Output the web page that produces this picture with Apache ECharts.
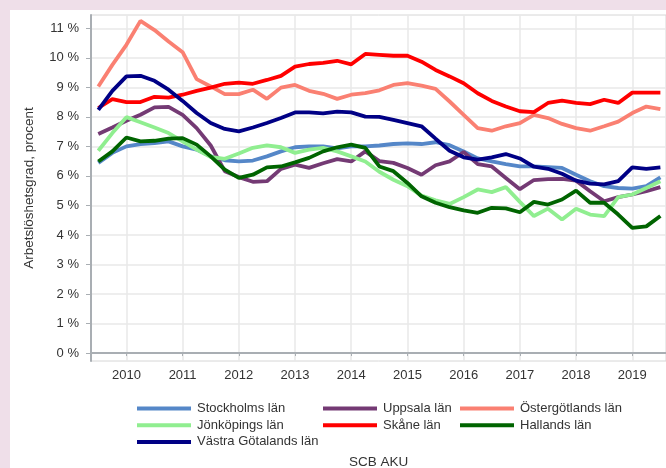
<!DOCTYPE html>
<html>
<head>
    <meta charset="UTF-8">
    <title>Arbetslöshetsgrad per län</title>
    <script src="https://cdn.jsdelivr.net/npm/echarts@6/dist/echarts.min.js"></script>
    <style>
        html, body { margin: 0; padding: 0; }
        #chart { width: 666px; height: 468px; }
    </style>
</head>
<body>
    <div id="chart"></div>

    <script>
        // kvartal (glidande), 2009K3 - 2019K3
        var quarters = [
            '2009K3', '2009K4',
            '2010K1', '2010K2', '2010K3', '2010K4',
            '2011K1', '2011K2', '2011K3', '2011K4',
            '2012K1', '2012K2', '2012K3', '2012K4',
            '2013K1', '2013K2', '2013K3', '2013K4',
            '2014K1', '2014K2', '2014K3', '2014K4',
            '2015K1', '2015K2', '2015K3', '2015K4',
            '2016K1', '2016K2', '2016K3', '2016K4',
            '2017K1', '2017K2', '2017K3', '2017K4',
            '2018K1', '2018K2', '2018K3', '2018K4',
            '2019K1', '2019K2', '2019K3'
        ];

        var yearTicks = [2010, 2011, 2012, 2013, 2014, 2015, 2016, 2017, 2018, 2019];
        var percentTicks = [0, 1, 2, 3, 4, 5, 6, 7, 8, 9, 10, 11];

        var stockholm = [6.44, 6.78, 7.00, 7.08, 7.11, 7.17, 7.00, 6.89, 6.66, 6.53, 6.49,
            6.52, 6.66, 6.83, 6.97, 7.00, 7.00, 6.93, 7.00, 7.00, 7.03,
            7.08, 7.10, 7.08, 7.14, 7.04, 6.83, 6.59, 6.49, 6.40, 6.32,
            6.32, 6.30, 6.27, 6.04, 5.82, 5.65, 5.59, 5.57, 5.65, 5.95];
        var uppsala = [7.42, 7.64, 7.87, 8.07, 8.32, 8.34, 8.07, 7.62, 7.03, 6.16, 5.96,
            5.80, 5.82, 6.24, 6.38, 6.27, 6.43, 6.57, 6.49, 6.83, 6.50,
            6.44, 6.27, 6.04, 6.36, 6.49, 6.81, 6.40, 6.32, 5.93, 5.55,
            5.86, 5.89, 5.90, 5.84, 5.48, 5.14, 5.28, 5.37, 5.48, 5.62];
        var ostergotland = [9.03, 9.76, 10.44, 11.25, 10.94, 10.55, 10.19, 9.28, 9.03, 8.77, 8.77,
            8.92, 8.61, 8.99, 9.08, 8.88, 8.78, 8.61, 8.75, 8.80, 8.90,
            9.08, 9.14, 9.06, 8.95, 8.52, 8.07, 7.62, 7.53, 7.68, 7.79,
            8.07, 7.96, 7.76, 7.62, 7.53, 7.68, 7.84, 8.13, 8.35, 8.26];
        var jonkoping = [6.85, 7.45, 7.99, 7.82, 7.64, 7.45, 7.17, 6.89, 6.64, 6.58, 6.76,
            6.95, 7.03, 6.97, 6.78, 6.89, 6.95, 6.83, 6.66, 6.49, 6.14,
            5.87, 5.65, 5.33, 5.17, 5.05, 5.28, 5.54, 5.45, 5.62, 5.12,
            4.64, 4.89, 4.52, 4.89, 4.69, 4.64, 5.28, 5.37, 5.59, 5.82];
        var skane = [8.30, 8.60, 8.50, 8.50, 8.68, 8.65, 8.75, 8.88, 8.99, 9.12, 9.16,
            9.12, 9.25, 9.39, 9.70, 9.79, 9.83, 9.90, 9.78, 10.13, 10.10,
            10.07, 10.07, 9.87, 9.59, 9.37, 9.14, 8.80, 8.54, 8.35, 8.19,
            8.16, 8.47, 8.55, 8.47, 8.43, 8.58, 8.47, 8.82, 8.82, 8.82];
        var halland = [6.49, 6.83, 7.30, 7.17, 7.19, 7.26, 7.28, 7.06, 6.66, 6.21, 5.93,
            6.04, 6.29, 6.32, 6.46, 6.61, 6.83, 6.97, 7.06, 6.95, 6.32,
            6.16, 5.76, 5.31, 5.09, 4.94, 4.83, 4.75, 4.92, 4.90, 4.77,
            5.12, 5.03, 5.20, 5.50, 5.09, 5.09, 4.69, 4.24, 4.29, 4.64];
        var vastraGotaland = [8.24, 8.88, 9.37, 9.39, 9.22, 8.92, 8.54, 8.13, 7.79, 7.59, 7.51,
            7.64, 7.79, 7.96, 8.15, 8.15, 8.12, 8.18, 8.15, 8.01, 8.00,
            7.90, 7.79, 7.68, 7.26, 6.85, 6.63, 6.55, 6.63, 6.74, 6.59,
            6.31, 6.24, 6.07, 5.84, 5.74, 5.71, 5.82, 6.29, 6.24, 6.29];

        var regions = [
            { name: 'Stockholms län', values: stockholm, color: '#5587c8' },
            { name: 'Uppsala län', values: uppsala, color: '#743a74' },
            { name: 'Östergötlands län', values: ostergotland, color: '#fa8072' },
            { name: 'Jönköpings län', values: jonkoping, color: '#90ee90' },
            { name: 'Skåne län', values: skane, color: '#ff0000' },
            { name: 'Hallands län', values: halland, color: '#006400' },
            { name: 'Västra Götalands län', values: vastraGotaland, color: '#000085' }
        ];

        // kvartal -> decimalår (K1 ligger på årsstrecket)
        var xs = quarters.map(function (q) {
            return parseInt(q.slice(0, 4), 10) + (parseInt(q.slice(5), 10) - 1) / 4;
        });

        var chart = echarts.init(document.getElementById('chart'));

        var font = 'Liberation Sans, Arial, sans-serif';
        var legendBase = {
            orient: 'vertical',
            top: 402,
            padding: 0,
            itemWidth: 54,
            itemHeight: 4,
            itemGap: 3.7,
            icon: 'rect',
            textStyle: { fontFamily: font, fontSize: 13, color: '#333', padding: [0, 0, 0, 1] }
        };

        var option = {
            backgroundColor: '#efdfe9',
            animation: false,
            graphic: [{
                type: 'rect',
                z: -10,
                shape: { x: 10, y: 10, width: 656, height: 458 },
                style: { fill: '#ffffff' }
            }],
            title: {
                text: 'SCB AKU',
                left: 344,
                top: 450,
                textStyle: { fontFamily: font, fontSize: 13.5, fontWeight: 'normal', color: '#333' }
            },
            legend: [
                Object.assign({}, legendBase, { left: 137, data: ['Stockholms län', 'Jönköpings län', 'Västra Götalands län'] }),
                Object.assign({}, legendBase, { left: 323, data: ['Uppsala län', 'Skåne län'] }),
                Object.assign({}, legendBase, { left: 460, data: ['Östergötlands län', 'Hallands län'] })
            ],
            grid: {
                left: 91,
                right: 0,
                top: 15,
                bottom: 107,
                show: true,
                borderColor: '#d6d6d6',
                borderWidth: 1
            },
            xAxis: {
                type: 'value',
                min: 2009.37,
                max: 2019.6,
                axisLine: { lineStyle: { color: '#a9aeb3', width: 2 } },
                axisTick: { show: true, customValues: yearTicks, length: 3, lineStyle: { color: '#a9aeb3' } },
                axisLabel: {
                    customValues: yearTicks,
                    margin: 8,
                    fontFamily: font,
                    fontSize: 13,
                    color: '#333',
                    formatter: function (v) { return String(v); }
                },
                splitLine: { show: true, lineStyle: { color: '#e8e8e8', width: 1.5 } }
            },
            yAxis: {
                type: 'value',
                min: -0.27,
                max: 11.45,
                name: 'Arbetslöshetsgrad, procent',
                nameLocation: 'middle',
                nameRotate: 90,
                nameGap: 55,
                nameTextStyle: { fontFamily: font, fontSize: 13.5, color: '#333' },
                axisLine: { show: true, lineStyle: { color: '#a9aeb3', width: 2 } },
                axisTick: { show: true, customValues: percentTicks, length: 5, lineStyle: { color: '#a9aeb3' } },
                axisLabel: {
                    customValues: percentTicks,
                    margin: 12,
                    fontFamily: font,
                    fontSize: 13,
                    color: '#333',
                    formatter: function (v) { return v + ' %'; }
                },
                splitLine: { show: true, lineStyle: { color: '#e8e8e8', width: 1.5 } }
            },
            series: regions.map(function (r) {
                return {
                    name: r.name,
                    type: 'line',
                    showSymbol: false,
                    symbol: 'none',
                    color: r.color,
                    lineStyle: { width: 3.8, color: r.color },
                    data: xs.map(function (x, i) { return [x, r.values[i]]; })
                };
            })
        };

        chart.setOption(option);
    </script>
</body>
</html>
